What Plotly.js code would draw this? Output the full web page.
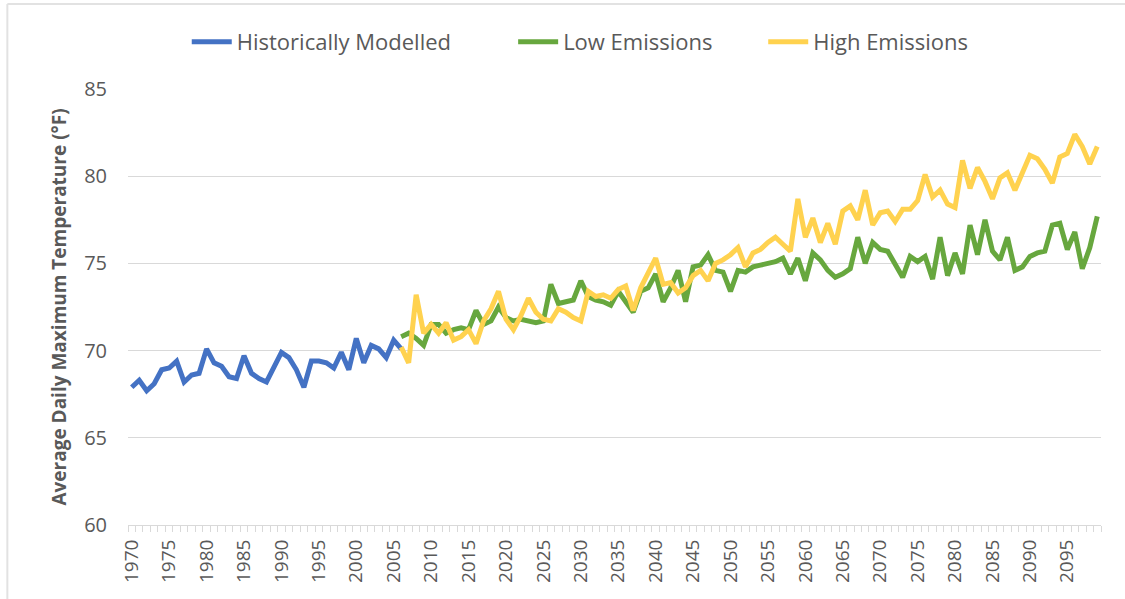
<!DOCTYPE html>
<html>
<head>
<meta charset="utf-8">
<script src="https://cdn.plot.ly/plotly-3.0.1.min.js"></script>
<style>
  html, body { margin: 0; padding: 0; background: #fff; }
  #chart { width: 1125px; height: 599px; }
</style>
</head>
<body>
<div id="chart"></div>
<script>
// years
const histStart = 1970;
const projStart = 2006;

// average daily max temperature (°F)
const historical = [
  67.9, 68.3, 67.7, 68.1, 68.9, 69.0, 69.4, 68.2, 68.6, 68.7,
  70.1, 69.3, 69.1, 68.5, 68.4, 69.7, 68.7, 68.4, 68.2, 69.0,
  69.9, 69.6, 68.9, 67.9, 69.4, 69.4, 69.3, 69.0, 69.9, 68.9,
  70.7, 69.3, 70.3, 70.1, 69.6, 70.6, 70.1
];

const lowEmissions = [
  70.8, 71.0, 70.7, 70.3, 71.5, 71.5, 71.0, 71.2, 71.3, 71.2,
  72.3, 71.5, 71.7, 72.5, 71.9, 71.7, 71.8, 71.7, 71.6, 71.7,
  73.8, 72.7, 72.8, 72.9, 74.0, 73.1, 72.9, 72.8, 72.6, 73.4,
  72.8, 72.2, 73.4, 73.6, 74.4, 72.8, 73.6, 74.6, 72.8, 74.8,
  74.9, 75.5, 74.6, 74.5, 73.4, 74.6, 74.5, 74.8, 74.9, 75.0,
  75.1, 75.3, 74.4, 75.3, 74.0, 75.6, 75.2, 74.6, 74.2, 74.4,
  74.7, 76.5, 75.0, 76.2, 75.8, 75.7, 75.0, 74.2, 75.4, 75.1,
  75.4, 74.1, 76.5, 74.3, 75.6, 74.4, 77.2, 75.5, 77.5, 75.7,
  75.2, 76.5, 74.6, 74.8, 75.4, 75.6, 75.7, 77.2, 77.3, 75.8,
  76.8, 74.7, 75.9, 77.7
];

const highEmissions = [
  70.2, 69.3, 73.2, 71.0, 71.5, 71.0, 71.6, 70.6, 70.8, 71.2,
  70.4, 71.7, 72.4, 73.4, 71.8, 71.2, 72.0, 73.0, 72.2, 71.8,
  71.7, 72.4, 72.2, 71.9, 71.7, 73.4, 73.1, 73.2, 73.0, 73.5,
  73.7, 72.3, 73.6, 74.4, 75.3, 73.8, 73.9, 73.3, 73.6, 74.3,
  74.6, 74.0, 75.0, 75.2, 75.5, 75.9, 74.8, 75.6, 75.8, 76.2,
  76.5, 76.1, 75.7, 78.7, 76.5, 77.6, 76.2, 77.3, 76.1, 78.0,
  78.3, 77.5, 79.2, 77.2, 77.9, 78.0, 77.4, 78.1, 78.1, 78.6,
  80.1, 78.8, 79.2, 78.4, 78.2, 80.9, 79.3, 80.5, 79.7, 78.7,
  79.9, 80.2, 79.2, 80.2, 81.2, 81.0, 80.4, 79.6, 81.1, 81.3,
  82.4, 81.7, 80.7, 81.7
];

const histYears = historical.map((v, i) => histStart + i);
const projYears = lowEmissions.map((v, i) => projStart + i);

// extra room after legend entries, like the wide gaps in the original
const nb = n => '\u00a0'.repeat(n);

const trace1 = {
  x: histYears,
  y: historical,
  name: 'Historically Modelled' + nb(10),
  type: 'scatter',
  mode: 'lines',
  line: {color: '#4472c4', width: 5}
};

const trace2 = {
  x: projYears,
  y: lowEmissions,
  name: 'Low Emissions' + nb(8),
  type: 'scatter',
  mode: 'lines',
  line: {color: '#67a73e', width: 5}
};

const trace3 = {
  x: projYears,
  y: highEmissions,
  name: 'High Emissions',
  type: 'scatter',
  mode: 'lines',
  line: {color: '#ffd24f', width: 5}
};

const gray = '#595959';
const border = '#e2e2e2';

const layout = {
  width: 1125,
  height: 599,
  paper_bgcolor: '#fff',
  plot_bgcolor: '#fff',
  font: {family: 'Open Sans, Liberation Sans, sans-serif', color: gray, size: 18},
  margin: {t: 89, b: 74, l: 128, r: 24},
  showlegend: true,
  legend: {
    orientation: 'h',
    xref: 'container', yref: 'container',
    x: 0.166, xanchor: 'left',
    y: 0.93, yanchor: 'middle',
    font: {size: 22, color: gray},
    itemwidth: 40,
    tracegroupgap: 0
  },
  xaxis: {
    range: [1969.5, 2099.5],
    tickmode: 'linear',
    tick0: 1970,
    dtick: 5,
    ticks: '',
    tickangle: -90,
    ticklabelstandoff: 6,
    tickfont: {size: 19, color: gray},
    showgrid: false,
    zeroline: false,
    showline: true,
    linecolor: '#d9d9d9',
    linewidth: 1,
    minor: {tick0: 1969.5, dtick: 1, ticks: 'outside', ticklen: 6, tickcolor: '#d9d9d9', showgrid: false},
    fixedrange: true
  },
  yaxis: {
    range: [60, 85],
    tickmode: 'linear',
    tick0: 60,
    dtick: 5,
    ticks: '',
    ticklabelstandoff: 20,
    tickfont: {size: 20, color: gray},
    showgrid: true,
    gridcolor: '#d9d9d9',
    gridwidth: 1,
    zeroline: false,
    showline: false,
    title: {
      text: '<b>Average Daily Maximum Temperature (°F)</b>',
      font: {size: 19, color: gray},
      standoff: 12
    },
    fixedrange: true
  },
  shapes: [
    // faint chart-area border, left and top edges
    {type: 'line', xref: 'paper', yref: 'paper', x0: -0.124, x1: -0.124, y0: 1.195, y1: -0.17,
     line: {color: border, width: 2}},
    {type: 'line', xref: 'paper', yref: 'paper', x0: -0.124, x1: 1.03, y0: 1.195, y1: 1.195,
     line: {color: border, width: 2}}
  ]
};

Plotly.newPlot('chart', [trace1, trace2, trace3], layout, {displayModeBar: false, staticPlot: true});
</script>
</body>
</html>
